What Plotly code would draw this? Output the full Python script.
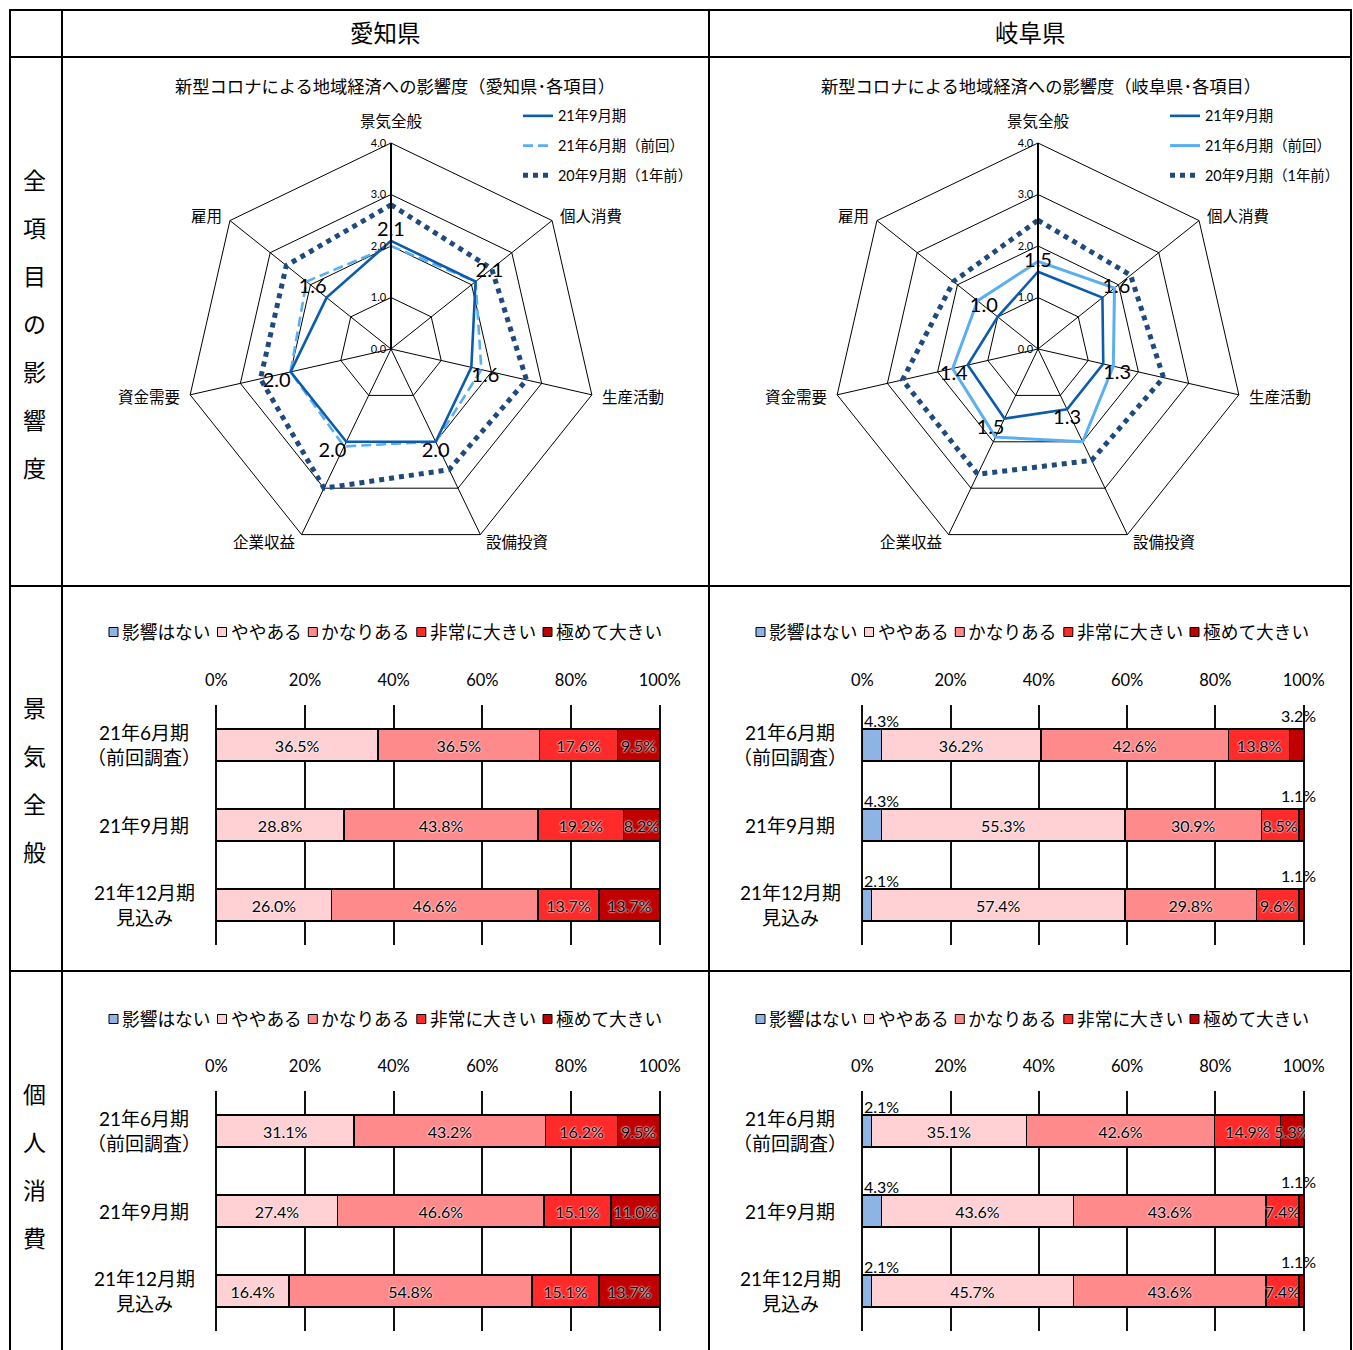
import math
import plotly.graph_objects as go

W, H = 1353, 1350
FONT = "Lato, 'Noto Sans CJK JP', sans-serif"


def px(x):
    return x / W


def py(y):
    return 1 - y / H


# ---- radar data (0-4 scale) ----
radar_axes = ["景気全般", "個人消費", "生産活動", "設備投資", "企業収益", "資金需要", "雇用"]

aichi_sep21 = [2.1, 2.1, 1.6, 2.0, 2.0, 2.0, 1.6]
aichi_jun21 = [2.0, 2.1, 1.8, 2.0, 2.1, 2.0, 2.1]
aichi_sep20 = [2.8, 2.5, 2.7, 2.6, 3.0, 2.6, 2.6]

gifu_sep21 = [1.5, 1.6, 1.3, 1.3, 1.5, 1.4, 1.0]
gifu_jun21 = [1.7, 1.9, 1.5, 2.0, 1.9, 1.7, 1.5]
gifu_sep20 = [2.5, 2.3, 2.5, 2.4, 2.7, 2.7, 2.1]

radar_names = ["21年9月期", "21年6月期（前回）", "20年9月期（1年前）"]

# ---- stacked bar data (% of respondents) ----
periods = ["21年6月期<br>（前回調査）", "21年9月期", "21年12月期<br>見込み"]
levels = ["影響はない", "ややある", "かなりある", "非常に大きい", "極めて大きい"]
level_colors = ["#8EB4E3", "#FFD1D4", "#FF8A8C", "#FF2A2A", "#C00000"]

# 愛知県・景気全般
aichi_keiki_jun = [0.0, 36.5, 36.5, 17.6, 9.5]
aichi_keiki_sep = [0.0, 28.8, 43.8, 19.2, 8.2]
aichi_keiki_dec = [0.0, 26.0, 46.6, 13.7, 13.7]
# 岐阜県・景気全般
gifu_keiki_jun = [4.3, 36.2, 42.6, 13.8, 3.2]
gifu_keiki_sep = [4.3, 55.3, 30.9, 8.5, 1.1]
gifu_keiki_dec = [2.1, 57.4, 29.8, 9.6, 1.1]
# 愛知県・個人消費
aichi_kojin_jun = [0.0, 31.1, 43.2, 16.2, 9.5]
aichi_kojin_sep = [0.0, 27.4, 46.6, 15.1, 11.0]
aichi_kojin_dec = [0.0, 16.4, 54.8, 15.1, 13.7]
# 岐阜県・個人消費
gifu_kojin_jun = [2.1, 35.1, 42.6, 14.9, 5.3]
gifu_kojin_sep = [4.3, 43.6, 43.6, 7.4, 1.1]
gifu_kojin_dec = [2.1, 45.7, 43.6, 7.4, 1.1]

fig = go.Figure()
annotations = []
shapes = []

# ---------------- radar charts ----------------
RADAR_R = 206
label_pos = ["top center", "top right", "bottom right", "bottom center",
             "bottom left", "bottom left", "top left"]
radar_sets = [
    ("polar", "legend", [aichi_sep21, aichi_jun21, aichi_sep20], "10px,5px", (391, 349)),
    ("polar2", "legend2", [gifu_sep21, gifu_jun21, gifu_sep20], "solid", (1038, 349)),
]
line_styles = [
    dict(color="#0B5CAD", width=2.6),
    dict(color="#5AAEF2", width=2.6),
    dict(color="#1F4A7E", width=5, dash="dot"),
]
for subplot, legend, series, prev_dash, (cx, cy) in radar_sets:
    # oldest period first so the current period sits on top
    for idx in [2, 1, 0]:
        vals = series[idx]
        style = dict(line_styles[idx])
        if idx == 1:
            style["dash"] = prev_dash
            if prev_dash == "solid":
                style["width"] = 3
        if idx == 0:
            kw = dict(
                mode="lines+text",
                text=[f"{v:.1f}" for v in vals] + [""],
                textposition=label_pos + ["top center"],
                textfont=dict(size=20, color="black", family=FONT),
            )
        else:
            kw = dict(mode="lines")
        fig.add_trace(go.Scatterpolar(
            r=vals + [vals[0]],
            theta=radar_axes + [radar_axes[0]],
            name=radar_names[idx],
            line=style,
            subplot=subplot,
            legend=legend,
            legendgroup=f"{subplot}-{idx}",
            legendrank=idx + 1,
            hoverinfo="skip",
            cliponaxis=False,
            **kw,
        ))
    # category names just outside each spoke
    n = len(radar_axes)
    for i, name in enumerate(radar_axes):
        ang = math.radians(i * 360 / n)
        sx, sy = math.sin(ang), -math.cos(ang)
        lx, ly = cx + (RADAR_R + 8) * sx, cy + (RADAR_R + 8) * sy
        if abs(sx) < 0.1:
            xa_, ya_, ys = "center", "bottom", 3
        else:
            xa_, ya_, ys = ("left" if sx > 0 else "right"), "middle", 0
        annotations.append(dict(
            x=px(lx), y=py(ly), xref="paper", yref="paper", text=name,
            showarrow=False, xanchor=xa_, yanchor=ya_, yshift=ys,
            font=dict(size=15.5, color="black", family=FONT)))

# ---------------- stacked bar charts ----------------
bar_panels = [
    ([aichi_keiki_jun, aichi_keiki_sep, aichi_keiki_dec], 215, 661, 705, 945),
    ([gifu_keiki_jun, gifu_keiki_sep, gifu_keiki_dec], 861, 1305, 705, 945),
    ([aichi_kojin_jun, aichi_kojin_sep, aichi_kojin_dec], 215, 661, 1091, 1331),
    ([gifu_kojin_jun, gifu_kojin_sep, gifu_kojin_dec], 861, 1305, 1091, 1331),
]

layout_axes = {}
label_font = dict(size=16, color="black", family=FONT)

for k, (rows, x0, x1, y0, y1) in enumerate(bar_panels, start=1):
    xa = "x" if k == 1 else f"x{k}"
    ya = "y" if k == 1 else f"y{k}"
    for j, level in enumerate(levels):
        vals = [row[j] for row in rows]
        texts = [f"{v:.1f}%" if v >= 5 else "" for v in vals]
        fig.add_trace(go.Bar(
            y=periods, x=vals, orientation="h",
            name=level, width=0.4,
            marker=dict(color=level_colors[j], line=dict(color="black", width=1.5)),
            text=texts, textposition="inside", insidetextanchor="middle",
            constraintext="none", textangle=0,
            textfont=dict(size=16, color="black", family=FONT,
                          shadow="0px 0px 2px white, 0px 0px 2px white"),
            xaxis=xa, yaxis=ya, showlegend=False, hoverinfo="skip",
        ))
        # small shares are labelled just above the bar
        for i, row in enumerate(rows):
            v = row[j]
            if 0 < v < 5:
                total = sum(row)
                start = sum(row[:j]) / total * 100
                end = sum(row[:j + 1]) / total * 100
                if j == 0:
                    annotations.append(dict(
                        x=start, y=periods[i], xref=xa, yref=ya, text=f"{v:.1f}%",
                        showarrow=False, xanchor="left", yanchor="middle",
                        yshift=25, xshift=0, font=label_font))
                else:
                    annotations.append(dict(
                        x=end, y=periods[i], xref=xa, yref=ya, text=f"{v:.1f}%",
                        showarrow=False, xanchor="center", yanchor="middle",
                        yshift=30, xshift=-5, font=label_font))
    # period labels, centred to the left of the plot
    for p in periods:
        annotations.append(dict(
            x=px(x0 - 71), y=p, xref="paper", yref=ya, text=p, showarrow=False,
            xanchor="center", yanchor="middle", align="center",
            font=dict(size=19, color="black", family=FONT)))
    layout_axes["xaxis" if k == 1 else f"xaxis{k}"] = dict(
        domain=[px(x0), px(x1)], range=[-0.3, 100.3], anchor=ya, side="top",
        tickvals=[0, 20, 40, 60, 80, 100],
        ticktext=["0%", "20%", "40%", "60%", "80%", "100%"],
        showgrid=True, gridcolor="#111", gridwidth=1.5,
        zeroline=False, showline=False, automargin=False,
        ticks="outside", ticklen=11, tickcolor="rgba(0,0,0,0)",
        tickfont=dict(size=16.5, color="black", family=FONT), fixedrange=True,
    )
    layout_axes["yaxis" if k == 1 else f"yaxis{k}"] = dict(
        domain=[py(y1), py(y0)], anchor=xa, type="category",
        categoryorder="array", categoryarray=periods, range=[2.5, -0.5],
        showticklabels=False, showgrid=False, zeroline=False, showline=False,
        automargin=False, fixedrange=True,
    )

# keys for the bar panels (square swatch + label)
KEY_FS = 17.7
legend_rows = [(62, 632), (709, 632), (62, 1019), (709, 1019)]
for cell_x, ly in legend_rows:
    x = cell_x + 47
    for level, color in zip(levels, level_colors):
        shapes.append(dict(type="rect", xref="paper", yref="paper",
                           x0=px(x), x1=px(x + 9), y0=py(ly + 4.5), y1=py(ly - 4.5),
                           fillcolor=color, line=dict(color="black", width=1)))
        annotations.append(dict(x=px(x + 11), y=py(ly), xref="paper", yref="paper",
                                text=level, showarrow=False,
                                xanchor="left", yanchor="middle",
                                font=dict(size=KEY_FS, color="black", family=FONT)))
        x += 12 + len(level) * KEY_FS + 8

# ---------------- table frame ----------------
frame = dict(color="black", width=2)
for xv in [10, 62, 709, 1351]:
    shapes.append(dict(type="line", xref="paper", yref="paper",
                       x0=px(xv), x1=px(xv), y0=py(9), y1=py(1350), line=frame))
for yv in [10, 57, 586, 971]:
    shapes.append(dict(type="line", xref="paper", yref="paper",
                       x0=px(9), x1=px(1352), y0=py(yv), y1=py(yv), line=frame))

# column headers
for name, cx in [("愛知県", 385), ("岐阜県", 1030)]:
    annotations.append(dict(x=px(cx), y=py(33), xref="paper", yref="paper", text=name,
                            showarrow=False, xanchor="center", yanchor="middle",
                            font=dict(size=23.5, color="black", family=FONT)))

# radar titles
for pref, cx in [("愛知県", 395), ("岐阜県", 1041)]:
    annotations.append(dict(
        x=px(cx), y=py(87), xref="paper", yref="paper",
        text=f"新型コロナによる地域経済への影響度（{pref}･各項目）",
        showarrow=False, xanchor="center", yanchor="middle",
        font=dict(size=17.3, color="black", family=FONT)))

# row headers, written vertically
for label, cy in [("全項目の影響度", 324), ("景気全般", 780), ("個人消費", 1166)]:
    n = len(label)
    for i, ch in enumerate(label):
        annotations.append(dict(
            x=px(34), y=py(cy + (i - (n - 1) / 2) * 48), xref="paper", yref="paper",
            text=ch, showarrow=False, xanchor="center", yanchor="middle",
            font=dict(size=23, color="black", family=FONT)))


def polar_layout(cx, cy, r):
    return dict(
        domain=dict(x=[px(cx - r), px(cx + r)], y=[py(cy + r), py(cy - r)]),
        gridshape="linear", bgcolor="white",
        angularaxis=dict(direction="clockwise", rotation=90, showline=True,
                         linecolor="black", linewidth=1, gridcolor="black", gridwidth=1,
                         ticks="", showticklabels=False),
        radialaxis=dict(range=[0, 4], dtick=1, tickformat=".1f", angle=90, tickangle=90,
                        showline=True, linecolor="black", linewidth=2,
                        gridcolor="black", gridwidth=1, ticks="",
                        side="counterclockwise",
                        tickfont=dict(size=11, color="black", family=FONT)),
    )


legend_common = dict(
    xanchor="left", yanchor="top", orientation="v", bgcolor="rgba(0,0,0,0)",
    font=dict(size=14.4, color="black", family=FONT), tracegroupgap=8,
    itemclick=False, itemdoubleclick=False,
)

fig.update_layout(
    width=W, height=H, margin=dict(l=0, r=0, t=0, b=0, pad=0, autoexpand=False),
    paper_bgcolor="white", plot_bgcolor="rgba(0,0,0,0)",
    font=dict(family=FONT, color="black"),
    barmode="stack", barnorm="percent",
    polar=polar_layout(391, 349, RADAR_R),
    polar2=polar_layout(1038, 349, RADAR_R),
    legend=dict(x=px(518), y=py(100), **legend_common),
    legend2=dict(x=px(1165), y=py(100), **legend_common),
    shapes=shapes, annotations=annotations,
    showlegend=True,
    **layout_axes,
)

fig.write_html("out.html")
